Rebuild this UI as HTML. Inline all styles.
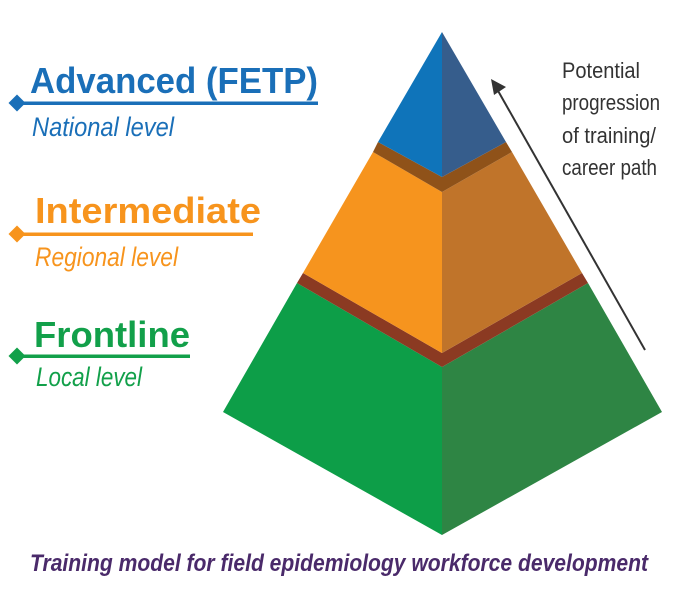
<!DOCTYPE html>
<html><head><meta charset="utf-8"><style>
html,body{margin:0;padding:0;background:#fff;}
svg{display:block;}
text{font-family:"Liberation Sans Narrow","Liberation Sans",sans-serif;}
</style></head><body>
<svg width="680" height="593" viewBox="0 0 680 593">
<g>
 <polygon points="297,283 442,367 442,535 223,412" fill="#0d9e48"/>
 <polygon points="442,367 588,283 662,412 442,535" fill="#2e8544"/>
 <polygon points="303,273 442,353 582,273 588,283 442,367 297,283" fill="#8b3a22"/>
 <polygon points="373,152 442,192 442,353 303,273" fill="#f6941e"/>
 <polygon points="442,192 512,152 582,273 442,353" fill="#c0742a"/>
 <polygon points="378,142 442,177 506,142 512,152 442,192 373,152" fill="#8f5219"/>
 <polygon points="442,32 442,177 378,142" fill="#0f74ba"/>
 <polygon points="442,32 506,142 442,177" fill="#365d8c"/>
</g>
<g>
 <line x1="645" y1="350" x2="497" y2="89" stroke="#333" stroke-width="2"/>
 <polygon points="491,79 506,87 494,95" fill="#333"/>
</g>
<g fill="#333" font-size="22">
 <text x="562" y="78" textLength="78" lengthAdjust="spacingAndGlyphs">Potential</text>
 <text x="562" y="110" textLength="98" lengthAdjust="spacingAndGlyphs">progression</text>
 <text x="562" y="143" textLength="94" lengthAdjust="spacingAndGlyphs">of training/</text>
 <text x="562" y="175" textLength="95" lengthAdjust="spacingAndGlyphs">career path</text>
</g>
<g>
 <text x="30" y="93" font-size="36" font-weight="bold" fill="#1a6fb8" textLength="288" lengthAdjust="spacingAndGlyphs" font-family="Liberation Sans,sans-serif">Advanced (FETP)</text>
 <rect x="20" y="101.5" width="298" height="3.5" fill="#1a6fb8"/>
 <rect x="11" y="97" width="12" height="12" fill="#1a6fb8" transform="rotate(45 17 103)"/>
 <text x="32" y="136" font-size="27" font-style="italic" fill="#1a6fb8" textLength="142" lengthAdjust="spacingAndGlyphs">National level</text>
</g>
<g>
 <text x="35" y="223" font-size="36" font-weight="bold" fill="#f7941d" textLength="226" lengthAdjust="spacingAndGlyphs" font-family="Liberation Sans,sans-serif">Intermediate</text>
 <rect x="20" y="232.5" width="233" height="3.5" fill="#f7941d"/>
 <rect x="11" y="228" width="12" height="12" fill="#f7941d" transform="rotate(45 17 234)"/>
 <text x="35" y="266" font-size="27" font-style="italic" fill="#f7941d" textLength="143" lengthAdjust="spacingAndGlyphs">Regional level</text>
</g>
<g>
 <text x="34" y="347" font-size="36" font-weight="bold" fill="#12a04a" textLength="156" lengthAdjust="spacingAndGlyphs" font-family="Liberation Sans,sans-serif">Frontline</text>
 <rect x="20" y="354.5" width="170" height="3.5" fill="#12a04a"/>
 <rect x="11" y="350" width="12" height="12" fill="#12a04a" transform="rotate(45 17 356)"/>
 <text x="36" y="386" font-size="27" font-style="italic" fill="#12a04a" textLength="106" lengthAdjust="spacingAndGlyphs">Local level</text>
</g>
<text x="30" y="571" font-size="24" font-weight="bold" font-style="italic" fill="#4a2a6a" textLength="618" lengthAdjust="spacingAndGlyphs">Training model for field epidemiology workforce development</text>
</svg>
</body></html>
